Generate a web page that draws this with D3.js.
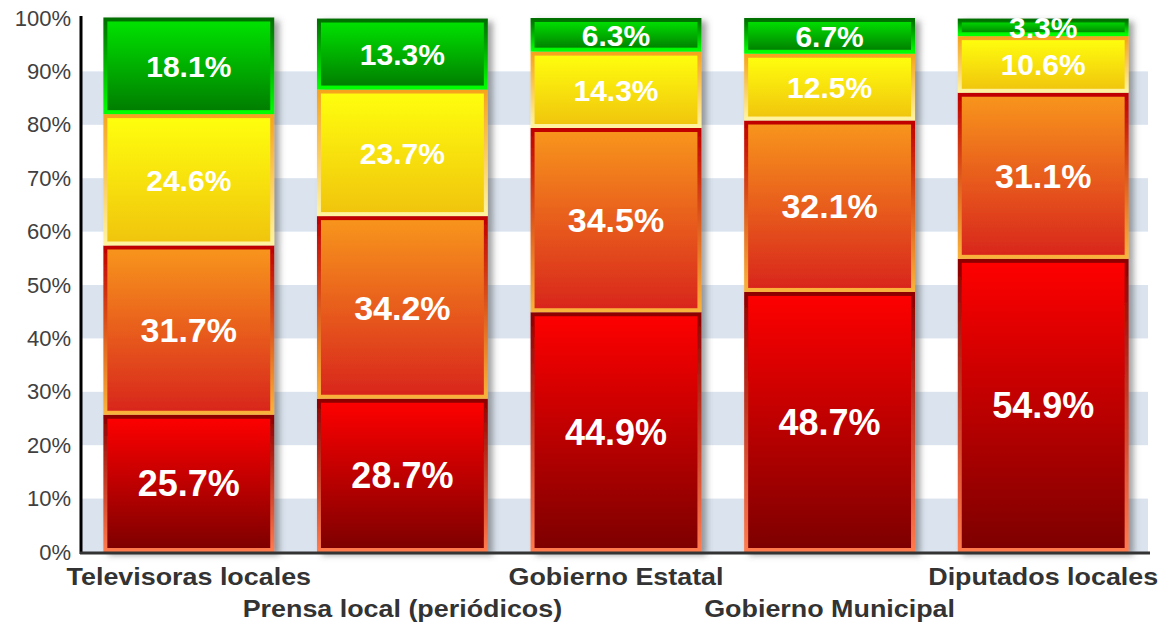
<!DOCTYPE html>
<html>
<head>
<meta charset="utf-8">
<script src="https://cdn.jsdelivr.net/npm/d3@7"></script>
<style>
  body { margin: 0; background: #fff; }
  text { font-family: "Liberation Sans", Arial, sans-serif; }
</style>
</head>
<body>
<div id="root"></div>
<script>
// Data
const categories = [
  "Televisoras locales",
  "Prensa local (periódicos)",
  "Gobierno Estatal",
  "Gobierno Municipal",
  "Diputados locales",
];
const seriesKeys = ["rojo", "naranja", "amarillo", "verde"];
const rojo = [25.7, 28.7, 44.9, 48.7, 54.9];
const naranja = [31.7, 34.2, 34.5, 32.1, 31.1];
const amarillo = [24.6, 23.7, 14.3, 12.5, 10.6];
const verde = [18.1, 13.3, 6.3, 6.7, 3.3];
const yTicks = [0, 10, 20, 30, 40, 50, 60, 70, 80, 90, 100];

// Styles per series
const seriesStyle = {
  rojo: { fill: ["#ff0000", "#7d0000"], stroke: ["#8e0000", "#ff7a4d"], font: 36 },
  naranja: { fill: ["#f8961c", "#d8251a"], stroke: ["#c00000", "#f9b23a"], font: 34 },
  amarillo: { fill: ["#ffff10", "#f0c408"], stroke: ["#f6a41e", "#fff3a0"], font: 30 },
  verde: { fill: ["#00e400", "#007c00"], stroke: ["#007000", "#00ff00"], font: 30 },
};

// Build stacked table
const table = categories.map((c, i) => ({
  cat: c,
  rojo: rojo[i],
  naranja: naranja[i],
  amarillo: amarillo[i],
  verde: verde[i],
}));
const stacked = d3.stack().keys(seriesKeys)(table);

// Constants
const fullWidth = 1159;
const fullHeight = 627;
const plot = { left: 82, right: 1150, top: 18, bottom: 552 };

const svg = d3
  .select("#root")
  .append("svg")
  .attr("width", fullWidth)
  .attr("height", fullHeight);

const defs = svg.append("defs");

// Gradients
seriesKeys.forEach((k) => {
  const st = seriesStyle[k];
  ["fill", "stroke"].forEach((part) => {
    const g = defs
      .append("linearGradient")
      .attr("id", `${part}-${k}`)
      .attr("x1", 0)
      .attr("y1", 0)
      .attr("x2", 0)
      .attr("y2", 1);
    g.append("stop").attr("offset", "0%").attr("stop-color", st[part][0]);
    g.append("stop").attr("offset", "100%").attr("stop-color", st[part][1]);
  });
});

// Shadow
defs
  .append("filter")
  .attr("id", "shadow")
  .attr("x", "-10%")
  .attr("y", "-10%")
  .attr("width", "130%")
  .attr("height", "120%")
  .append("feDropShadow")
  .attr("dx", 5)
  .attr("dy", 3)
  .attr("stdDeviation", 3)
  .attr("flood-color", "#555")
  .attr("flood-opacity", 0.55);

defs
  .append("clipPath")
  .attr("id", "plotClip")
  .append("rect")
  .attr("x", plot.left)
  .attr("y", plot.top - 1)
  .attr("width", plot.right - plot.left)
  .attr("height", plot.bottom - plot.top + 1);

// Scales
const xScale = d3
  .scaleBand()
  .domain(categories)
  .range([plot.left, plot.right])
  .paddingInner(0.2)
  .paddingOuter(0.1);
const yScale = d3.scaleLinear().domain([0, 100]).range([plot.bottom, plot.top]);

// Background bands
svg
  .append("g")
  .selectAll("rect")
  .data(yTicks.slice(0, -1).filter((t) => t % 20 === 0))
  .enter()
  .append("rect")
  .attr("x", plot.left)
  .attr("y", (t) => yScale(t + 10))
  .attr("width", plot.right - plot.left - 2)
  .attr("height", (t) => yScale(t) - yScale(t + 10))
  .attr("fill", "#dae3ee");

// Bars
const barGroup = svg.append("g").attr("filter", "url(#shadow)");
stacked.forEach((layer) => {
  barGroup
    .append("g")
    .selectAll("rect")
    .data(layer)
    .enter()
    .append("rect")
    .attr("x", (d) => xScale(d.data.cat) + 2)
    .attr("y", (d) => yScale(d[1]) + 2)
    .attr("width", xScale.bandwidth() - 4)
    .attr("height", (d) => yScale(d[0]) - yScale(d[1]) - 4)
    .attr("fill", `url(#fill-${layer.key})`)
    .attr("stroke", `url(#stroke-${layer.key})`)
    .attr("stroke-width", 4);
});

// Value labels
const labelGroup = svg.append("g").attr("clip-path", "url(#plotClip)");
stacked.forEach((layer) => {
  labelGroup
    .append("g")
    .selectAll("text")
    .data(layer)
    .enter()
    .append("text")
    .attr("x", (d) => xScale(d.data.cat) + xScale.bandwidth() / 2)
    .attr("y", (d) => (yScale(d[0]) + yScale(d[1])) / 2)
    .attr("dy", "0.36em")
    .attr("text-anchor", "middle")
    .style("font-size", seriesStyle[layer.key].font + "px")
    .style("font-weight", "bold")
    .style("fill", "#fff")
    .text((d) => d.data[layer.key].toFixed(1) + "%");
});

// Y axis
const yAxis = d3
  .axisLeft(yScale)
  .tickValues(yTicks)
  .tickSize(0)
  .tickPadding(10)
  .tickFormat((d) => d + "%");
const yAxisG = svg
  .append("g")
  .attr("transform", `translate(${plot.left - 1},0)`)
  .call(yAxis);
yAxisG.select(".domain").remove();
yAxisG
  .selectAll("text")
  .style("font-size", "22px")
  .style("fill", "#404040");

svg
  .append("line")
  .attr("x1", plot.left - 1)
  .attr("x2", plot.left - 1)
  .attr("y1", plot.top - 2)
  .attr("y2", plot.bottom + 2)
  .attr("stroke", "#000")
  .attr("stroke-width", 3);

// X axis
svg
  .append("line")
  .attr("x1", plot.left - 2)
  .attr("x2", plot.right)
  .attr("y1", plot.bottom + 1)
  .attr("y2", plot.bottom + 1)
  .attr("stroke", "#333")
  .attr("stroke-width", 3);

svg
  .append("g")
  .selectAll("text")
  .data(categories)
  .enter()
  .append("text")
  .attr(
    "transform",
    (d, i) =>
      `translate(${xScale(d) + xScale.bandwidth() / 2},${i % 2 === 0 ? 585 : 617}) scale(1.12,1)`
  )
  .attr("text-anchor", "middle")
  .style("font-size", "24px")
  .style("font-weight", "bold")
  .style("fill", "#333")
  .text((d) => d);
</script>
</body>
</html>
